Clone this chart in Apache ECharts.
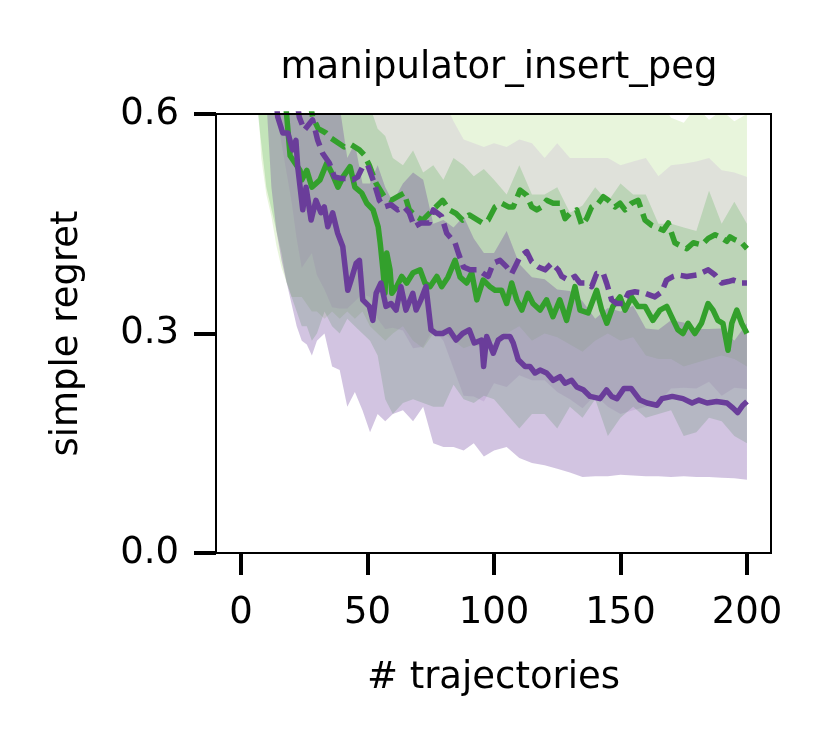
<!DOCTYPE html>
<html lang="en">
<head>
<meta charset="UTF-8">
<title>manipulator_insert_peg</title>
<script src="https://cdn.jsdelivr.net/npm/echarts@6/dist/echarts.min.js"></script>
<style>
  * { margin: 0; padding: 0; box-sizing: border-box; }
  html, body { width: 830px; height: 747px; background: #fff; overflow: hidden; }
  #chart { width: 830px; height: 747px; }
</style>
</head>
<body>
<div id="chart"></div>
<script>
// ticks
const xTicks = [0, 50, 100, 150, 200];
const yTicks = [0, 0.3, 0.6];
const yTickLabels = ['0.0', '0.3', '0.6'];

// green solid line
const gsX = [14, 17.5, 19.4, 23.3, 24, 26, 28, 31.2, 33.9, 35.8, 38.3, 40.3, 43.1, 45, 47.7, 49.7, 52.2, 54.2, 55, 56.1, 56.9, 57.6, 58.9, 59.6, 61.5, 63.5, 65.5, 68, 70.8, 72.7, 74.7, 77.4, 79.3, 81.8, 84.6, 86.6, 89.2, 91.2, 93.2, 95.7, 98.4, 100.4, 103, 105, 107, 109, 111, 113.4, 115.4, 118.2, 120.8, 123.3, 126, 128.7, 132, 134, 137.2, 140.6, 142.6, 144.6, 147, 149.8, 151.8, 154.4, 156.9, 159.7, 162.8, 165.6, 168.3, 170.2, 172.7, 174.7, 176.7, 179.4, 182, 184.6, 186.6, 188.5, 190.5, 192.5, 194, 196, 197.9, 200];
const gsY = [0.75, 0.62, 0.543, 0.523, 0.51, 0.523, 0.50, 0.51, 0.533, 0.52, 0.50, 0.514, 0.528, 0.50, 0.492, 0.478, 0.469, 0.446, 0.424, 0.387, 0.355, 0.41, 0.387, 0.355, 0.364, 0.378, 0.369, 0.383, 0.387, 0.369, 0.364, 0.378, 0.364, 0.377, 0.40, 0.377, 0.369, 0.383, 0.346, 0.373, 0.364, 0.359, 0.359, 0.341, 0.369, 0.346, 0.332, 0.355, 0.341, 0.332, 0.346, 0.323, 0.346, 0.318, 0.364, 0.332, 0.328, 0.359, 0.332, 0.314, 0.337, 0.35, 0.332, 0.35, 0.337, 0.337, 0.318, 0.332, 0.337, 0.323, 0.305, 0.30, 0.314, 0.30, 0.314, 0.341, 0.332, 0.318, 0.314, 0.277, 0.314, 0.332, 0.314, 0.30];

// green dashed line
const gdX = [24, 28.3, 30.5, 33.6, 35.6, 40.8, 43.5, 46.8, 48.7, 50.7, 53.4, 56.6, 59.3, 61.9, 64.5, 66.5, 69.2, 71.8, 75.8, 79.7, 82.3, 85, 87.6, 90.2, 95.5, 97.7, 100.4, 103, 105.7, 107.6, 110.3, 112.9, 114.9, 116.9, 118.9, 120.8, 123.4, 126.1, 128.1, 130, 132.7, 134.7, 136.6, 138.6, 141.2, 143.2, 145.2, 147.8, 149.8, 151.8, 154.4, 157, 159.7, 162.3, 164.9, 166.9, 168.9, 170.2, 171.5, 174.2, 176.2, 178.8, 182.1, 184.7, 187.4, 189.3, 192, 193.3, 195.3, 197.9, 200];
const gdY = [0.68, 0.596, 0.58, 0.574, 0.567, 0.555, 0.558, 0.551, 0.544, 0.53, 0.505, 0.487, 0.482, 0.487, 0.492, 0.469, 0.46, 0.455, 0.469, 0.482, 0.469, 0.464, 0.455, 0.462, 0.451, 0.455, 0.473, 0.478, 0.473, 0.473, 0.496, 0.489, 0.473, 0.469, 0.473, 0.482, 0.478, 0.478, 0.457, 0.464, 0.469, 0.448, 0.457, 0.473, 0.478, 0.487, 0.482, 0.473, 0.478, 0.469, 0.478, 0.482, 0.455, 0.448, 0.444, 0.441, 0.451, 0.437, 0.424, 0.419, 0.416, 0.424, 0.421, 0.43, 0.435, 0.432, 0.426, 0.432, 0.428, 0.424, 0.416];

// purple solid line
const psX = [11, 14.5, 16.5, 18.5, 20.4, 21.7, 22.4, 24.4, 25.7, 27.7, 29.6, 31.6, 32.9, 34.3, 36.2, 38.2, 40.2, 42.2, 43.5, 45.5, 46.8, 48.1, 50.7, 52.1, 53.4, 55.3, 57.3, 59.3, 61.3, 63.2, 65.2, 67.9, 69.2, 71.1, 73.1, 75.1, 77.1, 79.7, 82.3, 85, 87.6, 90.2, 92.2, 95.1, 95.9, 97.1, 99.7, 101.7, 103.7, 106.3, 107.6, 109.6, 112.3, 114.2, 116.2, 118.2, 120.8, 123.4, 126.1, 128.1, 130.7, 132.7, 135.3, 138, 141.9, 144.5, 146.5, 148.6, 151.4, 154.2, 157.7, 160.5, 164.4, 166.4, 170.5, 174.7, 178.3, 181, 184.2, 188, 192.1, 194.5, 196.3, 198.4, 200];
const psY = [0.72, 0.596, 0.574, 0.574, 0.551, 0.564, 0.528, 0.469, 0.50, 0.455, 0.482, 0.465, 0.473, 0.446, 0.465, 0.437, 0.419, 0.359, 0.373, 0.396, 0.40, 0.346, 0.337, 0.318, 0.355, 0.369, 0.337, 0.341, 0.332, 0.364, 0.332, 0.355, 0.332, 0.346, 0.364, 0.305, 0.30, 0.30, 0.305, 0.291, 0.30, 0.305, 0.287, 0.291, 0.255, 0.296, 0.273, 0.291, 0.296, 0.296, 0.287, 0.264, 0.255, 0.255, 0.246, 0.25, 0.246, 0.236, 0.241, 0.232, 0.236, 0.227, 0.223, 0.214, 0.211, 0.223, 0.214, 0.211, 0.225, 0.225, 0.209, 0.205, 0.202, 0.211, 0.214, 0.211, 0.205, 0.209, 0.205, 0.207, 0.205, 0.198, 0.192, 0.202, 0.207];

// purple dashed line
const pdX = [19, 23, 25, 28.3, 30.3, 32.3, 34.9, 36.9, 39.5, 42.2, 44.2, 46.1, 48.1, 50.1, 52.7, 54.7, 56.6, 59.3, 61.9, 64.5, 66.5, 68.5, 71.1, 74.4, 76, 79.3, 81.3, 84.6, 85.9, 87.9, 90.5, 93.8, 95.8, 97.7, 99.7, 102.4, 105, 107, 108.3, 110.3, 112.9, 114.9, 117.5, 120.2, 122.8, 125.4, 126.8, 129.4, 132, 134, 136.6, 138.6, 140.6, 143.2, 144.5, 146.5, 148.5, 151.1, 153.1, 155.7, 159.7, 163.6, 166.3, 168.2, 170.9, 172.8, 176.2, 180.1, 184.7, 187.4, 190, 192.6, 194.6, 197.9, 200];
const pdY = [0.70, 0.596, 0.578, 0.592, 0.564, 0.546, 0.533, 0.514, 0.512, 0.512, 0.51, 0.514, 0.528, 0.53, 0.505, 0.482, 0.473, 0.476, 0.469, 0.473, 0.465, 0.446, 0.451, 0.451, 0.469, 0.46, 0.437, 0.424, 0.41, 0.391, 0.387, 0.387, 0.382, 0.378, 0.396, 0.40, 0.391, 0.382, 0.391, 0.405, 0.412, 0.398, 0.391, 0.387, 0.396, 0.387, 0.378, 0.373, 0.378, 0.369, 0.369, 0.364, 0.382, 0.382, 0.369, 0.346, 0.341, 0.341, 0.355, 0.357, 0.355, 0.35, 0.357, 0.373, 0.378, 0.38, 0.378, 0.38, 0.387, 0.38, 0.369, 0.371, 0.373, 0.369, 0.369];

// shaded bands (upper / lower edges), shared x grid
const bandX = [6, 8, 10, 12, 14, 16, 18, 20, 22, 24, 26, 28, 30, 33, 36, 39, 42, 45, 48, 51, 54, 57, 60, 64, 68, 72, 76, 80, 84, 88, 92, 96, 100, 105, 110, 115, 120, 125, 130, 135, 140, 145, 150, 155, 160, 165, 170, 175, 180, 185, 190, 195, 200];

const gdUpper = [1.0, 0.98, 0.95, 0.93, 0.9, 0.88, 0.86, 0.84, 0.82, 0.8, 0.78, 0.76, 0.75, 0.73, 0.72, 0.71, 0.71, 0.70, 0.70, 0.69, 0.68, 0.67, 0.67, 0.67, 0.64, 0.63, 0.64, 0.66, 0.64, 0.63, 0.63, 0.625, 0.65, 0.645, 0.68, 0.655, 0.66, 0.66, 0.643, 0.625, 0.66, 0.666, 0.66, 0.663, 0.64, 0.62, 0.595, 0.588, 0.61, 0.592, 0.605, 0.59, 0.6];
const gdLower = [0.66, 0.54, 0.49, 0.46, 0.42, 0.39, 0.37, 0.35, 0.35, 0.35, 0.34, 0.33, 0.33, 0.32, 0.33, 0.32, 0.33, 0.32, 0.33, 0.31, 0.30, 0.29, 0.30, 0.31, 0.29, 0.28, 0.30, 0.30, 0.29, 0.28, 0.285, 0.28, 0.29, 0.30, 0.31, 0.29, 0.30, 0.295, 0.285, 0.275, 0.29, 0.30, 0.29, 0.295, 0.27, 0.265, 0.265, 0.255, 0.26, 0.265, 0.27, 0.265, 0.255];

const pdUpper = [1.0, 0.98, 0.95, 0.92, 0.9, 0.88, 0.86, 0.84, 0.81, 0.78, 0.77, 0.77, 0.75, 0.72, 0.70, 0.69, 0.69, 0.68, 0.70, 0.69, 0.66, 0.64, 0.64, 0.64, 0.62, 0.62, 0.63, 0.62, 0.59, 0.565, 0.56, 0.555, 0.56, 0.555, 0.565, 0.56, 0.54, 0.56, 0.54, 0.54, 0.54, 0.54, 0.53, 0.535, 0.54, 0.515, 0.53, 0.532, 0.535, 0.54, 0.523, 0.52, 0.514];
const pdLower = [0.9, 0.8, 0.72, 0.65, 0.6, 0.56, 0.52, 0.48, 0.43, 0.39, 0.40, 0.41, 0.38, 0.36, 0.336, 0.334, 0.334, 0.344, 0.354, 0.35, 0.32, 0.306, 0.308, 0.304, 0.28, 0.282, 0.306, 0.29, 0.252, 0.215, 0.214, 0.207, 0.232, 0.227, 0.243, 0.236, 0.236, 0.22, 0.21, 0.198, 0.216, 0.2, 0.19, 0.195, 0.20, 0.205, 0.225, 0.226, 0.225, 0.234, 0.215, 0.226, 0.224];

const gsUpper = [1.0, 0.97, 0.94, 0.91, 0.88, 0.84, 0.80, 0.77, 0.75, 0.73, 0.74, 0.72, 0.72, 0.74, 0.73, 0.71, 0.68, 0.65, 0.63, 0.61, 0.58, 0.57, 0.54, 0.53, 0.55, 0.52, 0.53, 0.51, 0.54, 0.53, 0.515, 0.525, 0.51, 0.49, 0.53, 0.49, 0.49, 0.50, 0.465, 0.475, 0.50, 0.48, 0.505, 0.49, 0.49, 0.45, 0.45, 0.445, 0.44, 0.495, 0.45, 0.48, 0.45];
const gsLower = [0.62, 0.56, 0.5, 0.47, 0.44, 0.41, 0.37, 0.35, 0.33, 0.31, 0.31, 0.29, 0.30, 0.33, 0.31, 0.30, 0.32, 0.31, 0.30, 0.29, 0.27, 0.21, 0.19, 0.205, 0.21, 0.205, 0.20, 0.20, 0.23, 0.21, 0.205, 0.215, 0.21, 0.19, 0.17, 0.19, 0.19, 0.17, 0.20, 0.185, 0.21, 0.16, 0.185, 0.20, 0.185, 0.19, 0.195, 0.16, 0.165, 0.185, 0.18, 0.16, 0.15];

const psUpper = [0.95, 0.9, 0.85, 0.8, 0.76, 0.74, 0.77, 0.76, 0.75, 0.67, 0.70, 0.65, 0.666, 0.64, 0.665, 0.61, 0.54, 0.56, 0.505, 0.505, 0.53, 0.50, 0.48, 0.505, 0.52, 0.51, 0.45, 0.455, 0.445, 0.46, 0.43, 0.41, 0.41, 0.44, 0.395, 0.377, 0.374, 0.36, 0.358, 0.344, 0.32, 0.335, 0.33, 0.338, 0.307, 0.305, 0.318, 0.315, 0.306, 0.306, 0.307, 0.29, 0.314];
const psLower = [0.75, 0.70, 0.62, 0.50, 0.44, 0.40, 0.37, 0.34, 0.31, 0.29, 0.285, 0.27, 0.29, 0.30, 0.255, 0.25, 0.20, 0.22, 0.195, 0.165, 0.19, 0.18, 0.19, 0.195, 0.18, 0.20, 0.15, 0.145, 0.145, 0.14, 0.15, 0.132, 0.14, 0.145, 0.13, 0.123, 0.12, 0.115, 0.11, 0.104, 0.105, 0.105, 0.107, 0.106, 0.105, 0.105, 0.104, 0.105, 0.104, 0.104, 0.103, 0.102, 0.10];

const GREEN = '#33a02c';
const PURPLE = '#6a3d9a';
const FONT = 'DejaVu Sans';

function pairs(xs, ys) {
  return xs.map((x, i) => [x, ys[i]]);
}

function bandSeries(name, lower, upper, color) {
  return {
    name: name,
    type: 'custom',
    clip: true,
    silent: true,
    z: 1,
    data: [[bandX[0], lower[0]]],
    renderItem: function (params, api) {
      const pts = [];
      for (let i = 0; i < bandX.length; i++) pts.push(api.coord([bandX[i], upper[i]]));
      for (let i = bandX.length - 1; i >= 0; i--) pts.push(api.coord([bandX[i], lower[i]]));
      return { type: 'polygon', shape: { points: pts }, style: { fill: color } };
    }
  };
}

function lineSeries(name, xs, ys, color, dashed) {
  return {
    name: name,
    type: 'line',
    data: pairs(xs, ys),
    symbol: 'none',
    clip: true,
    z: 3,
    lineStyle: { color: color, width: 5.5, type: dashed ? [16, 7] : 'solid', cap: 'butt', join: 'round' },
    emphasis: { disabled: true }
  };
}

const chart = echarts.init(document.getElementById('chart'));

chart.setOption({
  animation: false,
  backgroundColor: '#fff',
  title: {
    text: 'manipulator_insert_peg',
    left: 494,
    textAlign: 'center',
    top: 45,
    textStyle: { fontFamily: FONT, fontSize: 37, fontWeight: 'normal', color: '#000' }
  },
  grid: {
    left: 216, right: 59, top: 114, bottom: 194,
    show: true, borderColor: '#000', borderWidth: 2, backgroundColor: 'transparent', z: 10
  },
  xAxis: {
    type: 'value',
    min: -9.9,
    max: 209.5,
    splitLine: { show: false },
    axisLine: { show: false, onZero: false },
    axisTick: { show: true, inside: false, length: 22, customValues: xTicks, lineStyle: { color: '#000', width: 4 } },
    axisLabel: { customValues: xTicks, fontFamily: FONT, fontSize: 37, color: '#000', margin: 42 },
    name: '# trajectories',
    nameLocation: 'middle',
    nameGap: 107,
    nameTextStyle: { fontFamily: FONT, fontSize: 37, color: '#000' }
  },
  yAxis: {
    type: 'value',
    min: 0,
    max: 0.6,
    splitLine: { show: false },
    axisLine: { show: false, onZero: false },
    axisTick: { show: true, inside: false, length: 22, customValues: yTicks, lineStyle: { color: '#000', width: 4 } },
    axisLabel: {
      customValues: yTicks,
      formatter: function (v) { return yTickLabels[yTicks.findIndex(t => Math.abs(t - v) < 1e-6)]; },
      fontFamily: FONT, fontSize: 37, color: '#000', margin: 37
    },
    name: 'simple regret',
    nameLocation: 'middle',
    nameGap: 130,
    nameTextStyle: { fontFamily: FONT, fontSize: 37, color: '#000' }
  },
  series: [
    bandSeries('gd band', gdLower, gdUpper, 'rgba(178,223,138,0.3)'),
    bandSeries('pd band', pdLower, pdUpper, 'rgba(202,178,214,0.3)'),
    bandSeries('gs band', gsLower, gsUpper, 'rgba(51,160,44,0.2)'),
    bandSeries('ps band', psLower, psUpper, 'rgba(106,61,154,0.3)'),
    lineSeries('green solid', gsX, gsY, GREEN, false),
    lineSeries('green dashed', gdX, gdY, GREEN, true),
    lineSeries('purple solid', psX, psY, PURPLE, false),
    lineSeries('purple dashed', pdX, pdY, PURPLE, true)
  ]
});
</script>
</body>
</html>
